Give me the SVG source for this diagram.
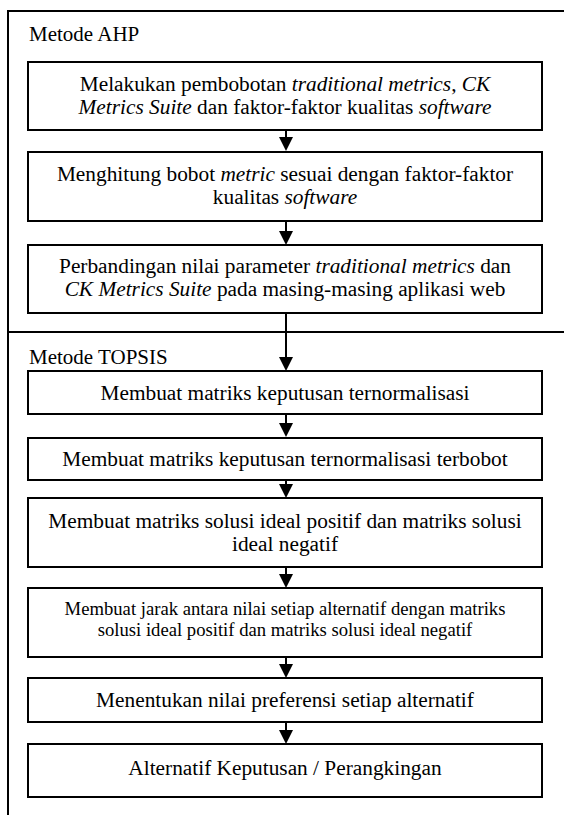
<svg xmlns="http://www.w3.org/2000/svg" width="564" height="815" viewBox="0 0 564 815">
<style>
.frame{fill:none;stroke:#000;stroke-width:2}
.box{fill:#fff;stroke:#000;stroke-width:2}
.t{font-family:"Liberation Serif","Times New Roman",serif;font-size:21.33px;fill:#000;text-anchor:middle}
.s{font-size:18.67px}
.lbl{font-family:"Liberation Serif","Times New Roman",serif;font-size:21px;fill:#000}
.i{font-style:italic}
.conn{stroke:#000;stroke-width:2;fill:none}
.head{fill:#000}
</style>
<rect width="564" height="815" fill="#fff"/>
<g id="frame">
<path class="frame" d="M564,11 H8 V815"/>
<line class="frame" x1="8" y1="332" x2="564" y2="332"/>
<text class="lbl" x="29" y="41">Metode AHP</text>
<text class="lbl" x="29" y="364">Metode TOPSIS</text>
</g>
<g id="connectors">
<path class="conn" d="M286,130 V137"/><path class="head" d="M279,137 H293 L286,151 Z"/>
<path class="conn" d="M286,221 V231"/><path class="head" d="M279,231 H293 L286,245 Z"/>
<path class="conn" d="M286,313 V357"/><path class="head" d="M279,357 H293 L286,371 Z"/>
<path class="conn" d="M286,414 V423"/><path class="head" d="M279,423 H293 L286,437 Z"/>
<path class="conn" d="M286,480 V484"/><path class="head" d="M279,484 H293 L286,498 Z"/>
<path class="conn" d="M286,567 V574"/><path class="head" d="M279,574 H293 L286,588 Z"/>
<path class="conn" d="M286,657 V664"/><path class="head" d="M279,664 H293 L286,678 Z"/>
<path class="conn" d="M286,722 V730"/><path class="head" d="M279,730 H293 L286,744 Z"/>
</g>
<g id="n1">
<rect class="box" x="28" y="62" width="514" height="68"/>
<text class="t" x="285" y="91">Melakukan pembobotan <tspan class="i">traditional metrics</tspan>, <tspan class="i">CK</tspan></text>
<text class="t" x="285" y="114"><tspan class="i">Metrics Suite</tspan> dan faktor-faktor kualitas <tspan class="i">software</tspan></text>
</g>
<g id="n2">
<rect class="box" x="28" y="152" width="514" height="69"/>
<text class="t" x="285" y="181">Menghitung bobot <tspan class="i">metric</tspan> sesuai dengan faktor-faktor</text>
<text class="t" x="285" y="204">kualitas <tspan class="i">software</tspan></text>
</g>
<g id="n3">
<rect class="box" x="28" y="245" width="514" height="68"/>
<text class="t" x="285" y="273">Perbandingan nilai parameter <tspan class="i">traditional metrics</tspan> dan</text>
<text class="t" x="285" y="296"><tspan class="i">CK Metrics Suite</tspan> pada masing-masing aplikasi web</text>
</g>
<g id="n4">
<rect class="box" x="28" y="371" width="514" height="43"/>
<text class="t" x="285" y="400">Membuat matriks keputusan ternormalisasi</text>
</g>
<g id="n5">
<rect class="box" x="28" y="438" width="514" height="42"/>
<text class="t" x="285" y="466">Membuat matriks keputusan ternormalisasi terbobot</text>
</g>
<g id="n6">
<rect class="box" x="28" y="498" width="514" height="69"/>
<text class="t" x="285" y="528">Membuat matriks solusi ideal positif dan matriks solusi</text>
<text class="t" x="285" y="551">ideal negatif</text>
</g>
<g id="n7">
<rect class="box" x="28" y="588" width="514" height="69"/>
<text class="t s" x="285" y="615">Membuat jarak antara nilai setiap alternatif dengan matriks</text>
<text class="t s" x="285" y="636">solusi ideal positif dan matriks solusi ideal negatif</text>
</g>
<g id="n8">
<rect class="box" x="28" y="678" width="514" height="44"/>
<text class="t" x="285" y="707">Menentukan nilai preferensi setiap alternatif</text>
</g>
<g id="n9">
<rect class="box" x="28" y="744" width="514" height="53"/>
<text class="t" x="285" y="775">Alternatif Keputusan / Perangkingan</text>
</g>
</svg>
